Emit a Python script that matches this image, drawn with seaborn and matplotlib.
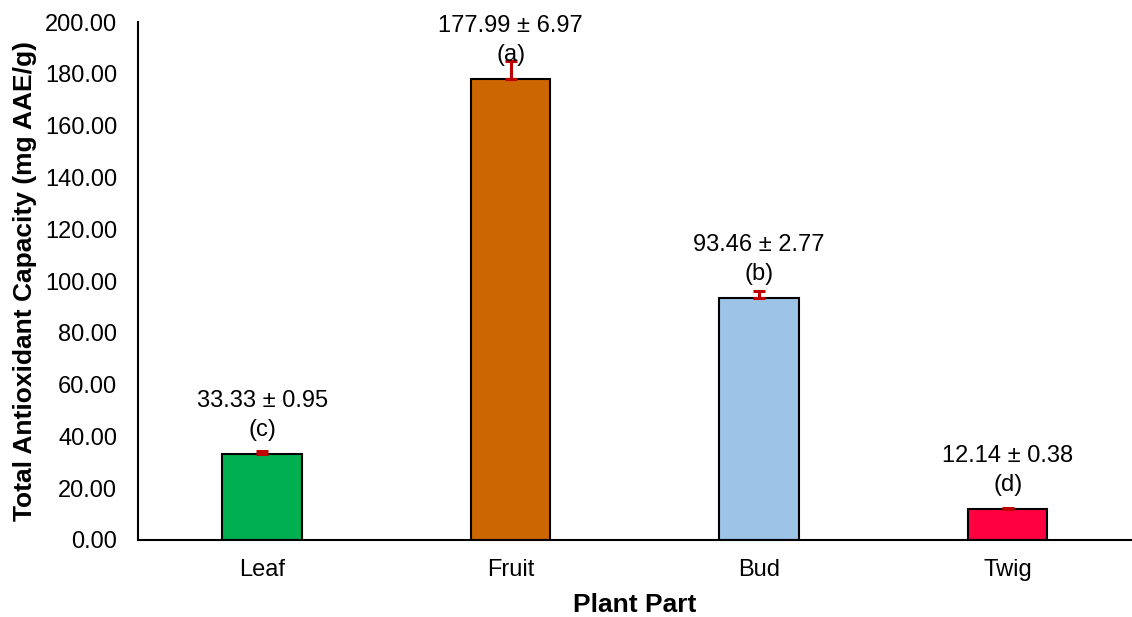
import pandas as pd
import seaborn as sns
import matplotlib.pyplot as plt

parts = ["Leaf", "Fruit", "Bud", "Twig"]
tac = [33.33, 177.99, 93.46, 12.14]
sd = [0.95, 6.97, 2.77, 0.38]
letters = ["(c)", "(a)", "(b)", "(d)"]
colours = ["#00B050", "#CC6600", "#9DC3E6", "#FF0040"]

data = pd.DataFrame({"part": parts, "tac": tac, "sd": sd})

sns.set_style("white")
plt.rcParams["font.family"] = ["Liberation Sans", "DejaVu Sans"]
plt.rcParams["text.color"] = "black"
plt.rcParams["axes.labelcolor"] = "black"
plt.rcParams["xtick.color"] = "black"
plt.rcParams["ytick.color"] = "black"

fig = plt.figure(figsize=(11.32, 6.17), dpi=100)
ax = fig.add_axes([0.1219, 0.1248, 0.878, 0.8395])

sns.barplot(data=data, x="part", y="tac", hue="part", palette=colours, saturation=1,
            width=0.32, edgecolor="black", linewidth=1.5, legend=False, ax=ax)

# upward-only error bars
ax.errorbar(range(len(parts)), data["tac"], yerr=[[0] * len(sd), data["sd"]],
            fmt="none", ecolor="#C00000", elinewidth=2.2, capsize=4.5, capthick=2.2)

for i, (v, s, l) in enumerate(zip(tac, sd, letters)):
    ax.annotate(l, (i, v), xytext=(0, 17), textcoords="offset points",
                ha="center", va="center", fontsize=17)
    ax.annotate(f"{v:.2f} ± {s:.2f}", (i, v), xytext=(0, 38), textcoords="offset points",
                ha="center", va="center", fontsize=17)

ax.set_ylim(0, 200)
ax.set_xlim(-0.5, 3.5)
ax.set_yticks(range(0, 201, 20))
ax.set_yticklabels([f"{t:.2f}" for t in range(0, 201, 20)])
ax.tick_params(axis="both", labelsize=17, length=0)
ax.tick_params(axis="y", pad=15)
ax.tick_params(axis="x", pad=14)
ax.set_xlabel("Plant Part", fontsize=19, fontweight="bold", labelpad=8)
ax.set_ylabel("Total Antioxidant Capacity (mg AAE/g)", fontsize=19, fontweight="bold", labelpad=6)

for side in ["top", "right"]:
    ax.spines[side].set_visible(False)
for side in ["left", "bottom"]:
    ax.spines[side].set_color("black")
    ax.spines[side].set_linewidth(1.5)

fig.savefig("out.png", dpi=100)
